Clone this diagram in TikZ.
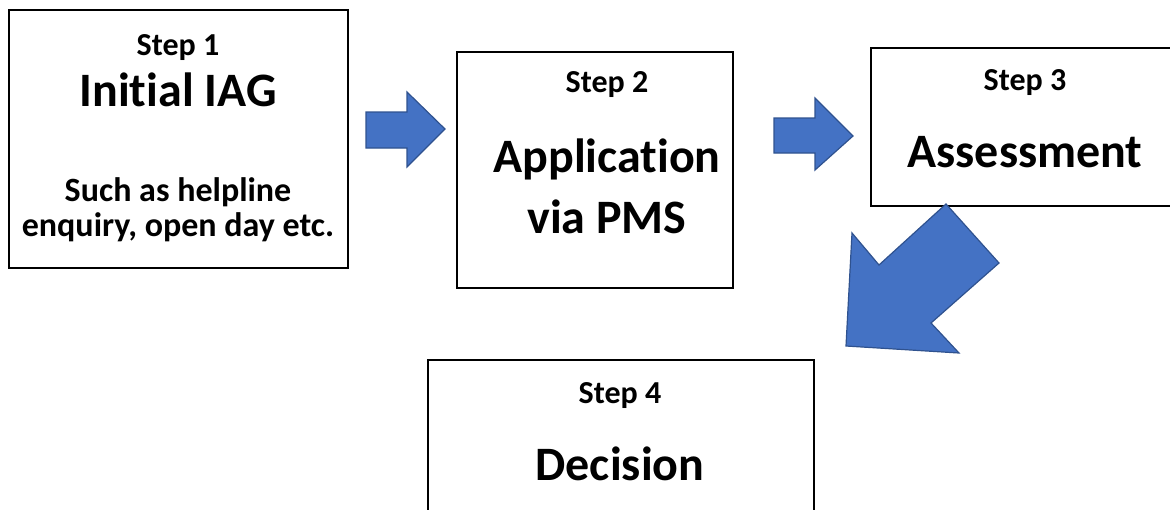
\documentclass[tikz,border=0pt]{standalone}
\usepackage{fontspec}
\setmainfont{Carlito}[Ligatures={NoCommon,NoRare}]
\begin{document}
\begin{tikzpicture}[x=1pt,y=-1pt,
  stepbox/.style={draw=black,line width=1.5pt,fill=white},
  steplbl/.style={font=\bfseries\fontsize{32}{38}\selectfont,anchor=base,inner sep=0pt},
  title/.style={font=\bfseries\fontsize{48}{60}\selectfont,anchor=base,inner sep=0pt,align=center},
  subtxt/.style={font=\bfseries\fontsize{34}{35}\selectfont,anchor=base,inner sep=0pt},
  blockarrow/.style={fill=arrowfill,draw=arrowdraw,line width=1.2pt,line join=miter}]
\definecolor{arrowfill}{HTML}{4472C4}
\definecolor{arrowdraw}{HTML}{2F528F}
\useasboundingbox (0,0) rectangle (1170,509);
% boxes
\draw[stepbox] (9,10) rectangle (348,268);
\draw[stepbox] (457,52) rectangle (733,288);
\draw[stepbox] (871,48) rectangle (1176,206);
\draw[stepbox] (428,360) rectangle (814,516);
% box 1
\node[steplbl] (s1) at (178,55) {Step 1};
\node[title] (t1) at (178,106) {Initial IAG};
\node[subtxt] (u1) at (178,201) {Such as helpline};
\node[subtxt] (u2) at (178,236) {enquiry, open day etc.};
% box 2
\node[steplbl] (s2) at (607,92) {Step 2};
\node[title] (t2) at (607,172) {Application};
\node[title] (t2b) at (607,233) {via PMS};
% box 3
\node[steplbl] (s3) at (1025,90) {Step 3};
\node[title] (t3) at (1025,167) {Assessment};
% box 4
\node[steplbl] (s4) at (620,403) {Step 4};
\node[title] (t4) at (620,480) {Decision};
% arrows
\draw[blockarrow] (366,112) -- (407,112) -- (407,92) -- (445,129) -- (407,167) -- (407,148) -- (366,148) -- cycle;
\draw[blockarrow] (774,118) -- (815,118) -- (815,98) -- (853,136) -- (815,170) -- (815,153) -- (774,153) -- cycle;
\draw[blockarrow] (946,204) -- (999,263) -- (931,323) -- (959,353) -- (846,346) -- (852,233) -- (879,265) -- cycle;
\end{tikzpicture}
\end{document}
